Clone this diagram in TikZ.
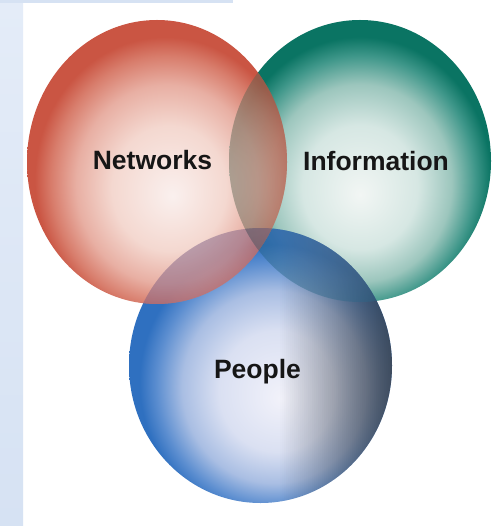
\documentclass[tikz,border=0pt]{standalone}
\usepackage{fontspec}
\setmainfont{Liberation Sans}
\definecolor{bgA}{HTML}{E4ECF8}
\definecolor{bgB}{HTML}{D6E2F3}
\definecolor{txt}{HTML}{161616}
\definecolor{rA}{HTML}{FAF0EE}
\definecolor{rB}{HTML}{F4D8D0}
\definecolor{rC}{HTML}{E8AFA3}
\definecolor{rD}{HTML}{D87D6C}
\definecolor{rE}{HTML}{CA5543}
\definecolor{tA}{HTML}{F2F6F4}
\definecolor{tB}{HTML}{D6E7E3}
\definecolor{tC}{HTML}{9CC6BD}
\definecolor{tD}{HTML}{3F978A}
\definecolor{tE}{HTML}{0A7463}
\definecolor{bA}{HTML}{F2F2FA}
\definecolor{bB}{HTML}{DAE0F2}
\definecolor{bC}{HTML}{A9BEE3}
\definecolor{bD}{HTML}{5C8ED0}
\definecolor{bE}{HTML}{2F70C0}
\definecolor{graydark}{HTML}{3A3D42}
\definecolor{lensRT}{HTML}{8E5A48}
\definecolor{lensRB}{HTML}{9A4A5E}
\definecolor{lensBT}{HTML}{1E4E86}
\pgfdeclareradialshading{redball}{\pgfpoint{3bp}{-6bp}}{color(0bp)=(rA); color(11bp)=(rB); color(17.5bp)=(rC); color(22bp)=(rD); color(25bp)=(rE); color(50bp)=(rE)}
\pgfdeclareradialshading{tealball}{\pgfpoint{0bp}{-6bp}}{color(0bp)=(tA); color(11bp)=(tB); color(17.5bp)=(tC); color(22bp)=(tD); color(25bp)=(tE); color(50bp)=(tE)}
\pgfdeclareradialshading{blueball}{\pgfpoint{4bp}{-6bp}}{color(0bp)=(bA); color(11bp)=(bB); color(17.5bp)=(bC); color(22bp)=(bD); color(25bp)=(bE); color(50bp)=(bE)}
\begin{document}
\begin{tikzpicture}[x=1pt,y=-1pt,
  lbl/.style={font=\bfseries\fontsize{26.5}{30}\selectfont, text=txt, inner sep=0pt, anchor=base}]
\useasboundingbox (0,0) rectangle (495,526);
\fill[white] (0,0) rectangle (495,526);
\shade[top color=bgA, bottom color=bgB] (0,0) rectangle (23,526);
\fill[bgB] (0,0) rectangle (233,3.5);
% teal ball
\shade[shading=tealball] (360,161) ellipse [x radius=131, y radius=141];
% blue ball
\shade[shading=blueball] (260.5,365.5) ellipse [x radius=131.5, y radius=137.5];
\begin{scope}
  \clip (260.5,365.5) ellipse [x radius=131.5, y radius=137.5];
  \foreach \i in {0,...,56} {
    \fill[graydark, fill opacity={0.8*(\i+0.5)/57}] ({280+2*\i},220) rectangle ({282+2*\i},510);
  }
\end{scope}
% red ball
\shade[shading=redball] (157,162) ellipse [x radius=130, y radius=142];
% overlaps: lower balls showing through
\begin{scope}
  \clip (260.5,365.5) ellipse [x radius=131.5, y radius=137.5];
  \shade[shading=tealball, opacity=0.2] (360,161) ellipse [x radius=131, y radius=141];
  \clip (360,161) ellipse [x radius=131, y radius=141];
  \fill[lensBT, fill opacity=0.3] (220,220) rectangle (495,310);
\end{scope}
\begin{scope}
  \clip (157,162) ellipse [x radius=130, y radius=142];
  \shade[shading=tealball, opacity=0.25] (360,161) ellipse [x radius=131, y radius=141];
  \shade[shading=blueball, opacity=0.22] (260.5,365.5) ellipse [x radius=131.5, y radius=137.5];
  \begin{scope}
    \clip (360,161) ellipse [x radius=131, y radius=141];
    \fill[lensRT, fill opacity=0.3] (220,15) rectangle (295,310);
  \end{scope}
  \clip (260.5,365.5) ellipse [x radius=131.5, y radius=137.5];
  \fill[lensRB, fill opacity=0.3] (120,220) rectangle (295,310);
\end{scope}
% labels
\node[lbl] (net) at (152.5,170) {Networks};
\node[lbl] (inf) at (376,171) {Information};
\node[lbl] (ppl) at (257.5,378) {People};
\end{tikzpicture}
\end{document}
